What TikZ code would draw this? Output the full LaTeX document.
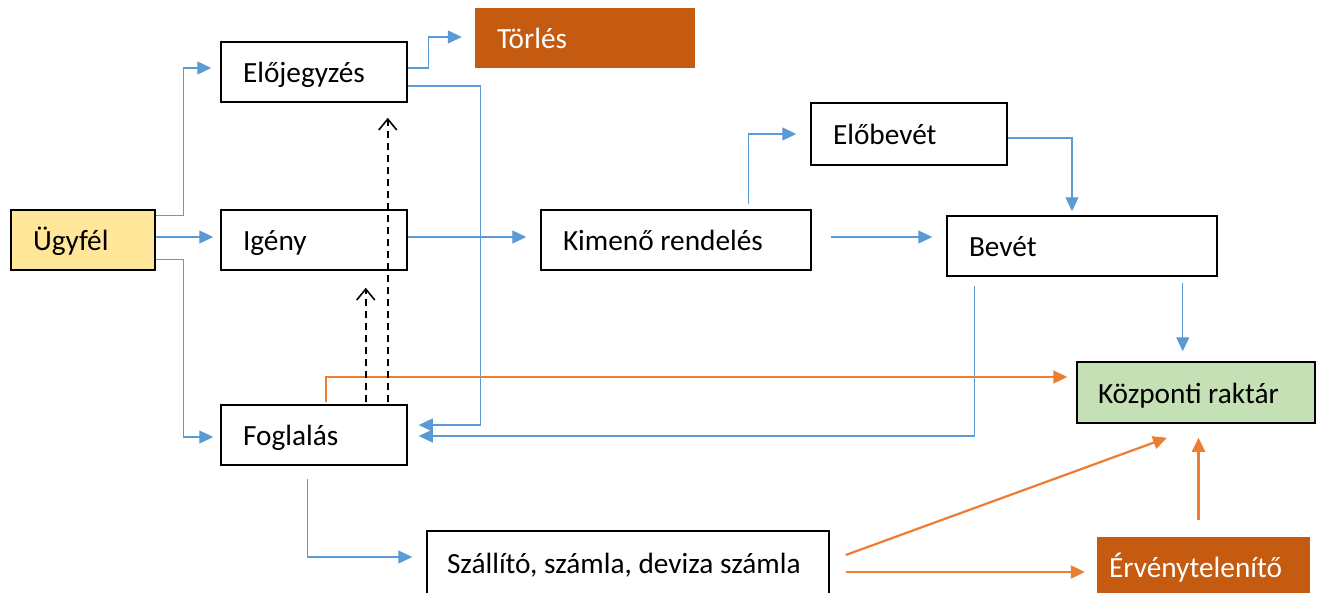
\documentclass[tikz,border=0pt]{standalone}
\usepackage{fontspec}
\setmainfont{Carlito}
\usetikzlibrary{arrows.meta}
\definecolor{bluec}{HTML}{5B9BD5}
\definecolor{orc}{HTML}{ED7D31}
\definecolor{darkor}{HTML}{C55A11}
\definecolor{ugyc}{HTML}{FFE699}
\definecolor{kpc}{HTML}{C5E0B4}
\begin{document}
\begin{tikzpicture}[x=1pt,y=-1pt,
  box/.style={draw=black, line width=1.5pt, rectangle, inner xsep=22pt, inner ysep=0pt, align=flush left,
    text height=25pt, text depth=4pt, font=\fontsize{29.3}{32}\selectfont},
  solidbox/.style={rectangle, inner xsep=22pt, inner ysep=0pt, align=flush left, fill=darkor, text=white,
    text height=25pt, text depth=4pt, font=\fontsize{29.3}{32}\selectfont},
  bl/.style={draw=bluec, line width=1.3pt, -{Triangle[length=14pt,width=13pt]}},
  og/.style={draw=orc, line width=2.2pt, -{Triangle[length=14pt,width=13pt]}},
  dsh/.style={draw=black, line width=1.6pt, dash pattern=on 7pt off 5pt, -{Straight Barb[length=11pt,width=18pt,line width=1.6pt]}}
]
\useasboundingbox (0,0) rectangle (1321,592);
\fill[white] (0,0) rectangle (1321,592);

\node[box, fill=ugyc, text width=100pt, minimum height=60pt] (ugy) at (83,240) {Ügyfél};
\node[box, text width=142pt, minimum height=60pt] (elo) at (314,72) {Előjegyzés};
\node[box, text width=142pt, minimum height=60pt] (ige) at (314,240) {Igény};
\node[box, text width=142pt, minimum height=60pt] (fog) at (314,435) {Foglalás};
\node[box, text width=226pt, minimum height=60pt] (kim) at (676,240) {Kimenő rendelés};
\node[box, text width=152pt, minimum height=62pt] (pre) at (909,134) {Előbevét};
\node[box, text width=226pt, minimum height=60pt] (bev) at (1082,246) {Bevét};
\node[box, fill=kpc, text width=196pt, inner xsep=21pt, minimum height=61pt] (kp) at (1196,392.5) {Központi raktár};
\node[box, text width=362pt, inner xsep=20pt, minimum height=64pt] (sza) at (628,563) {Szállító, számla, deviza számla};
\node[solidbox, text width=176pt, minimum height=60pt] (tor) at (585,38) {Törlés};
\node[solidbox, inner xsep=12pt, text width=189pt, minimum height=60pt] (erv) at (1203.5,567) {Érvénytelenítő};

% blue connectors
\draw[bl] ([yshift=-6pt]ugy.north east) -- ++(28,0) |- ([xshift=-9pt,yshift=4pt]elo.west);
\draw[bl] ([yshift=3pt]ugy.east) -- ([xshift=-7pt,yshift=3pt]ige.west);
\draw[bl] ([yshift=11pt]ugy.south east) -- ++(28,0) |- ([xshift=-7pt,yshift=-2pt]fog.west);
\draw[bl] ([yshift=4pt]elo.east) -- ++(21,0) |- ([xshift=-13pt,yshift=1pt]tor.west);
\draw[bl] ([yshift=-14pt]elo.east) -- ++(73,0) |- ([xshift=11pt,yshift=10pt]fog.east);
\draw[bl] ([yshift=3pt]ige.east) -- ([xshift=-14pt,yshift=3pt]kim.west);
\draw[bl] ([xshift=-63pt,yshift=5pt]kim.north east) |- ([xshift=-14pt]pre.west);
\draw[bl] ([xshift=19pt,yshift=3pt]kim.east) -- ([xshift=-14pt,yshift=9pt]bev.west);
\draw[bl] ([yshift=-4pt]pre.east) -| ([xshift=-10pt,yshift=4pt]bev.north);
\coordinate (b1) at ([xshift=-35pt,yshift=-6pt]bev.south east);
\draw[bl, shorten >=10pt] (b1) -- (b1 |- kp.north);
\draw[bl] ([xshift=28pt,yshift=-9pt]bev.south west) |- ([xshift=11pt,yshift=-1pt]fog.east);
\draw[bl] ([xshift=-100pt,yshift=-13pt]fog.south east) |- ([xshift=-14pt,yshift=6pt]sza.west);

% orange connectors
\draw[og] ([xshift=-82pt,yshift=2pt]fog.north east) |- ([xshift=-9pt,yshift=15.5pt]kp.west);
\draw[og] ([xshift=16pt,yshift=8pt]sza.east) -- ([xshift=-29pt,yshift=-14pt]kp.south);
\coordinate (s2) at ([xshift=16pt,yshift=-9pt]sza.east);
\draw[og, shorten >=12pt] (s2) -- (s2 -| erv.west);
\coordinate (e1) at ([xshift=-5pt,yshift=17pt]erv.north);
\draw[og, shorten >=14pt] (e1) -- (e1 |- kp.south);

% dashed connectors
\coordinate (d1) at ([xshift=-42pt,yshift=2pt]fog.north east);
\draw[dsh, shorten >=17pt] (d1) -- (d1 |- ige.south);
\coordinate (d2) at ([xshift=-20pt,yshift=2pt]fog.north east);
\draw[dsh, shorten >=15pt] (d2) -- (d2 |- elo.south);
\end{tikzpicture}
\end{document}
